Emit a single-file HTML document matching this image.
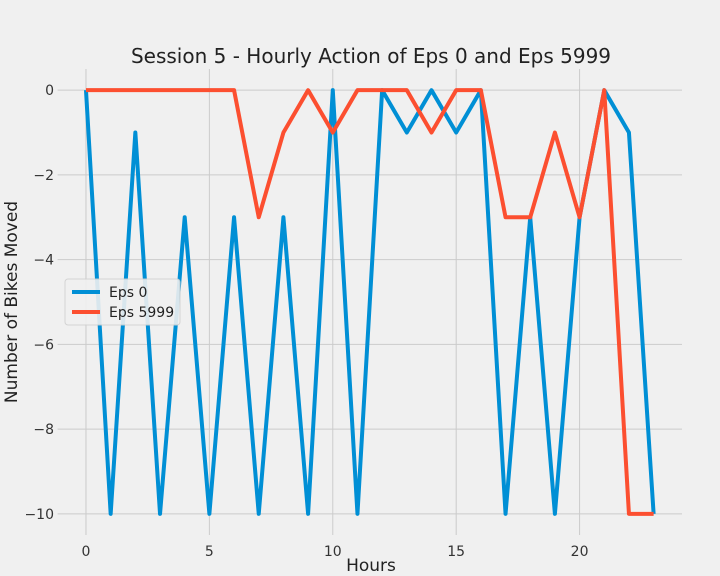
<!DOCTYPE html>
<html><head><meta charset="utf-8"><style>
body{margin:0;background:#f0f0f0;}
svg{display:block;font-family:"DejaVu Sans","Liberation Sans",sans-serif;}
</style></head><body>
<svg id="chart" width="720" height="576" viewBox="0 0 720 576">
<rect width="720" height="576" fill="#f0f0f0"/>
<g id="grid"></g>
<g id="ticks"></g>
<g id="series"></g>
<text x="371" y="63" font-size="20" text-anchor="middle" fill="#222">Session 5 - Hourly Action of Eps 0 and Eps 5999</text>
<text x="371" y="571" font-size="17" text-anchor="middle" fill="#222">Hours</text>
<text x="17" y="302" font-size="17" text-anchor="middle" fill="#222" transform="rotate(-90 17 302)">Number of Bikes Moved</text>
<g>
<rect x="65" y="279" width="115" height="46" rx="3" fill="#f0f0f0" stroke="#d0d0d0" opacity="0.9"/>
<line x1="72" y1="292" x2="100" y2="292" stroke="#008fd5" stroke-width="4"/>
<text x="109" y="297" font-size="14" fill="#222">Eps 0</text>
<line x1="72" y1="312" x2="100" y2="312" stroke="#fc4f30" stroke-width="4"/>
<text x="109" y="317" font-size="14" fill="#222">Eps 5999</text>
</g>
</svg>
<script>
const hours=[0,1,2,3,4,5,6,7,8,9,10,11,12,13,14,15,16,17,18,19,20,21,22,23];
const eps0=[0,-10,-1,-10,-3,-10,-3,-10,-3,-10,0,-10,0,-1,0,-1,0,-10,-3,-10,-3,0,-1,-10];
const eps5999=[0,0,0,0,0,0,0,-3,-1,0,-1,0,0,0,-1,0,0,-3,-3,-1,-3,0,-10,-10];
const xTicks=[0,5,10,15,20];
const yTicks=[0,-2,-4,-6,-8,-10];
const X0=57.6,X1=682,Y0=69,Y1=535,xmin=-1.15,xmax=24.15,ymin=-10.5,ymax=0.5;
const sx=v=>X0+(v-xmin)/(xmax-xmin)*(X1-X0);
const sy=v=>Y1-(v-ymin)/(ymax-ymin)*(Y1-Y0);
const NS="http://www.w3.org/2000/svg";
const grid=document.getElementById('grid'),ticks=document.getElementById('ticks'),ser=document.getElementById('series');
function mk(t,a,p){const e=document.createElementNS(NS,t);for(const k in a)e.setAttribute(k,a[k]);p.appendChild(e);return e;}
xTicks.forEach(v=>{
 const l=mk('line',{x1:sx(v),x2:sx(v),y1:Y0,y2:Y1,stroke:'#cbcbcb','stroke-width':1},grid);
 
 
 const t=mk('text',{x:sx(v),y:556,'font-size':14,'text-anchor':'middle',fill:'#333'},ticks);t.textContent=v;
 
 
});
yTicks.forEach(v=>{
 const l=mk('line',{x1:X0,x2:X1,y1:sy(v),y2:sy(v),stroke:'#cbcbcb','stroke-width':1},grid);
 
 
 const t=mk('text',{x:54,y:sy(v)+5,'font-size':14,'text-anchor':'end',fill:'#333'},ticks);t.textContent=v===0?'0':'\u2212'+Math.abs(v);
 
 
});
function line(d,c,n){
 const p=mk('polyline',{points:hours.map((h,i)=>sx(h)+','+sy(d[i])).join(' '),fill:'none',stroke:c,'stroke-width':4,'stroke-linejoin':'round'},ser);
 
 
}
line(eps0,'#008fd5','line-eps0');
line(eps5999,'#fc4f30','line-eps5999');
</script>
</body></html>
